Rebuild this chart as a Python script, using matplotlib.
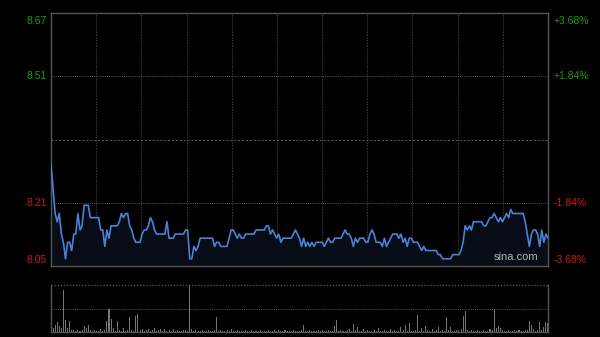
import matplotlib
matplotlib.use("Agg")
import matplotlib.pyplot as plt
import numpy as np

# ---- data ----
prev_close = 8.36
price_ticks = [8.05, 8.21, 8.51, 8.67]
pct_labels = ["-3.68%", "-1.84%", "+1.84%", "+3.68%"]

prices = [
    8.30, 8.24, 8.18, 8.16, 8.18, 8.13, 8.11, 8.07, 8.11, 8.11,
    8.09, 8.13, 8.13, 8.18, 8.14, 8.15, 8.20, 8.20, 8.20, 8.17,
    8.17, 8.17, 8.17, 8.17, 8.14, 8.14, 8.10, 8.14, 8.12, 8.15,
    8.15, 8.15, 8.15, 8.16, 8.18, 8.17, 8.18, 8.18, 8.15, 8.14,
    8.12, 8.11, 8.11, 8.11, 8.13, 8.14, 8.14, 8.15, 8.17, 8.16,
    8.14, 8.13, 8.13, 8.13, 8.13, 8.13, 8.16, 8.12, 8.12, 8.12,
    8.13, 8.13, 8.13, 8.13, 8.13, 8.14, 8.14, 8.07, 8.07, 8.10,
    8.09, 8.10, 8.12, 8.12, 8.12, 8.12, 8.12, 8.12, 8.12, 8.10,
    8.11, 8.11, 8.10, 8.10, 8.10, 8.10, 8.12, 8.14, 8.14, 8.13,
    8.12, 8.13, 8.12, 8.12, 8.13, 8.13, 8.13, 8.13, 8.13, 8.14,
    8.14, 8.14, 8.14, 8.14, 8.15, 8.15, 8.13, 8.14, 8.13, 8.12,
    8.13, 8.11, 8.12, 8.12, 8.12, 8.12, 8.12, 8.13, 8.14, 8.13,
    8.12, 8.10, 8.12, 8.10, 8.11, 8.10, 8.11, 8.10, 8.11, 8.11,
    8.11, 8.11, 8.10, 8.11, 8.12, 8.11, 8.11, 8.12, 8.12, 8.12,
    8.12, 8.13, 8.14, 8.13, 8.13, 8.12, 8.10, 8.12, 8.11, 8.12,
    8.12, 8.12, 8.11, 8.11, 8.13, 8.14, 8.13, 8.11, 8.11, 8.11,
    8.10, 8.12, 8.10, 8.11, 8.12, 8.13, 8.13, 8.13, 8.12, 8.13,
    8.11, 8.12, 8.10, 8.12, 8.12, 8.11, 8.11, 8.11, 8.10, 8.09,
    8.10, 8.09, 8.09, 8.09, 8.09, 8.09, 8.09, 8.08, 8.08, 8.07,
    8.07, 8.07, 8.07, 8.07, 8.08, 8.08, 8.08, 8.08, 8.09, 8.11,
    8.15, 8.14, 8.15, 8.14, 8.16, 8.16, 8.16, 8.16, 8.16, 8.15,
    8.15, 8.16, 8.17, 8.17, 8.18, 8.17, 8.16, 8.17, 8.16, 8.17,
    8.18, 8.17, 8.19, 8.18, 8.18, 8.18, 8.18, 8.18, 8.18, 8.16,
    8.13, 8.10, 8.13, 8.14, 8.14, 8.13, 8.10, 8.14, 8.11, 8.13,
    8.12,
]

volumes = [
    3, 4, 7, 10, 6, 4, 42, 12, 4, 11,
    2, 2, 1, 2, 1, 2, 6, 4, 7, 2,
    1, 2, 1, 1, 3, 1, 2, 11, 23, 13,
    4, 1, 11, 2, 1, 4, 1, 2, 15, 2,
    1, 16, 18, 2, 3, 1, 2, 3, 1, 2,
    4, 1, 2, 3, 1, 3, 1, 2, 1, 3,
    1, 2, 1, 1, 2, 2, 1, 47, 3, 1,
    2, 1, 1, 2, 1, 1, 2, 1, 1, 2,
    15, 1, 2, 1, 1, 2, 1, 3, 1, 1,
    2, 1, 1, 1, 2, 1, 1, 2, 1, 1,
    1, 2, 1, 1, 1, 2, 1, 1, 2, 1,
    2, 1, 1, 2, 1, 1, 1, 2, 1, 1,
    1, 2, 7, 1, 1, 2, 1, 1, 1, 2,
    1, 2, 1, 1, 2, 1, 1, 6, 12, 1,
    2, 1, 1, 2, 3, 1, 8, 2, 5, 1,
    1, 3, 1, 2, 1, 1, 2, 1, 4, 1,
    1, 2, 1, 1, 3, 1, 2, 1, 1, 5,
    2, 7, 1, 9, 1, 1, 2, 17, 1, 4,
    1, 6, 2, 1, 3, 1, 2, 5, 1, 2,
    1, 15, 2, 5, 1, 1, 2, 2, 3, 16,
    21, 2, 1, 2, 1, 1, 2, 1, 1, 2,
    1, 1, 3, 2, 23, 4, 6, 4, 2, 1,
    1, 2, 1, 1, 2, 1, 2, 1, 1, 2,
    2, 11, 7, 3, 1, 2, 10, 2, 5, 10,
    9,
]

# ---- style ----
plt.rcParams['font.family'] = ['Liberation Sans', 'DejaVu Sans']
BG = '#000000'
GRID = '#333333'
BORDER = '#555555'
GREEN = '#1a9a1a'
RED = '#cc1a0a'
LINE = '#4a82d6'

fig = plt.figure(figsize=(6.0, 3.37), dpi=100, facecolor=BG)
W, H = 600, 337
L, R = 51, 548
ax = fig.add_axes([L / W, (H - 266) / H, (R - L) / W, 253 / H], facecolor=BG)
axv = fig.add_axes([L / W, (H - 332) / H, (R - L) / W, 47 / H], facecolor=BG)

n = len(prices)
x = np.arange(n)
ymin = prev_close * (1 - 0.0368)
ymax = prev_close * (1 + 0.0368)

ax.set_xlim(0, n - 1)
ax.set_ylim(ymin, ymax)

# grid
for k in range(1, 11):
    ax.axvline((n - 1) * k / 11, color=GRID, lw=0.8, ls=(0, (1.5, 1)), zorder=1)
for v in [prev_close * (1 + 0.0184), prev_close * (1 - 0.0184)]:
    ax.axhline(v, color='#555555', lw=0.7, ls=(0, (1, 1.2)), zorder=1)
ax.axhline(prev_close, color='#606060', lw=0.7, ls=(0, (2, 2)), zorder=1)

ax.fill_between(x, prices, ymin, color='#080c16', lw=0, zorder=2)
ax.plot(x, prices, color=LINE, lw=1.2, zorder=3)

for s in ax.spines.values():
    s.set_color(BORDER)
    s.set_linewidth(1.0)
ax.set_xticks([])
ax.set_yticks([])

# price labels (left) and percent labels (right)
tick_vals = [ymin, prev_close * (1 - 0.0184), prev_close * (1 + 0.0184), ymax]
vas = ['bottom', 'center', 'center', 'top']
for tv, lab, pl, va in zip(tick_vals, price_ticks, pct_labels, vas):
    col = GREEN if tv > prev_close else RED
    dy = 0
    if va == 'top':
        dy = -2
    elif va == 'bottom':
        dy = 1
    ax.annotate(f"{lab:.2f}", xy=(0, tv), xycoords=('axes fraction', 'data'),
                xytext=(-3, dy), textcoords='offset points', ha='right', va=va,
                color=col, fontsize=7.5)
    ax.annotate(pl, xy=(1, tv), xycoords=('axes fraction', 'data'),
                xytext=(4, dy), textcoords='offset points', ha='left', va=va,
                color=col, fontsize=7.5)

ax.text(0.980, 0.015, 'sina.com', transform=ax.transAxes, ha='right', va='bottom',
        color='#b4b4b4', fontsize=8, zorder=4)

# volume panel
axv.set_xlim(0, n - 1)
axv.set_ylim(0, 47.3)
axv.bar(x, volumes, width=0.5, color='#767676', lw=0, zorder=2)
axv.axhline(47.3 / 2, color='#505050', lw=0.7, ls=(0, (1, 1.2)), zorder=1)
axv.axhline(47.3, color='#505050', lw=1.0, ls=(0, (1, 1.2)), zorder=1, clip_on=False)
axv.spines['top'].set_visible(False)
for s in ['left', 'right', 'bottom']:
    axv.spines[s].set_color(BORDER)
    axv.spines[s].set_linewidth(1.0)
axv.set_xticks([])
axv.set_yticks([])

assert len(volumes) == n
fig.savefig('out.png', dpi=100, facecolor=BG)
